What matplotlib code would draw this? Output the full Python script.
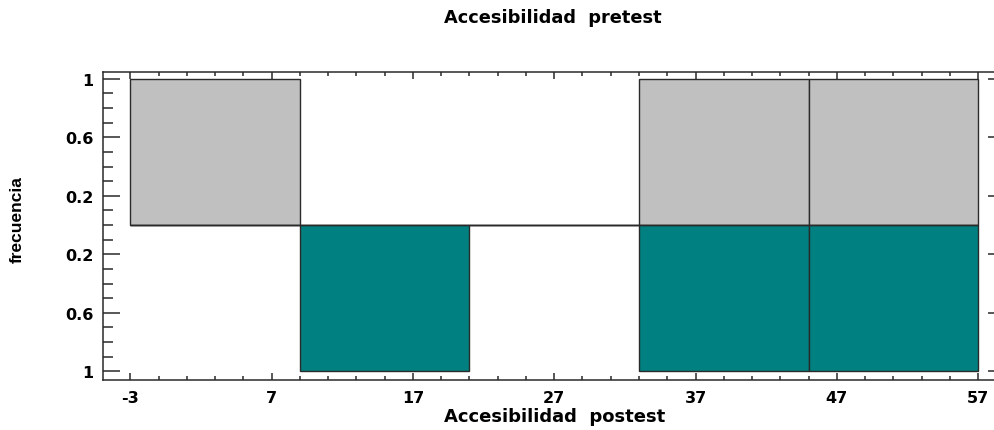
import numpy as np
import matplotlib
matplotlib.use("Agg")
import matplotlib.pyplot as plt
from matplotlib import font_manager
from matplotlib.ticker import FixedLocator, MultipleLocator, FuncFormatter

plt.rcParams['font.family'] = ['DejaVu Sans']
plt.rcParams['axes.unicode_minus'] = False

# histogram bins (width 12 starting at -3)
bin_left = [-3, 9, 21, 33, 45]
bin_width = 12
pretest = [1, 0, 0, 1, 1]
postest = [0, 1, 0, 1, 1]

x_ticks = [-3, 7, 17, 27, 37, 47, 57]
y_ticks = [-1, -0.6, -0.2, 0.2, 0.6, 1]

fig = plt.figure(figsize=(9.95, 4.31), dpi=100)
ax = fig.add_axes([0.104, 0.116, 0.906, 0.715])

edge = "#2a2a2a"
ax.bar(bin_left, pretest, width=bin_width, align="edge", color="#c0c0c0",
       edgecolor=edge, linewidth=1.0, zorder=2)
ax.bar(bin_left, [-v for v in postest], width=bin_width, align="edge",
       color="#008080", edgecolor=edge, linewidth=1.0, zorder=2)
ax.hlines(0, bin_left[0], bin_left[-1] + bin_width, color=edge, lw=1.0, zorder=3)

ax.set_xlim(-4.9, 58.9)
ax.set_ylim(-1.06, 1.048)

ax.xaxis.set_major_locator(FixedLocator(x_ticks))
ax.xaxis.set_minor_locator(MultipleLocator(2, offset=1))
ax.yaxis.set_major_locator(FixedLocator(y_ticks))
ax.yaxis.set_minor_locator(MultipleLocator(0.1))
ax.yaxis.set_major_formatter(FuncFormatter(lambda v, p: f"{abs(v):g}"))

ax.tick_params(axis="both", which="both", direction="in", top=True, right=True,
               color="#2a2a2a", width=1.1, labelsize=11.5)
ax.tick_params(axis="x", which="major", length=5, pad=7)
ax.tick_params(axis="x", which="minor", length=3)
ax.tick_params(axis="y", which="major", length=12.5, pad=7)
ax.tick_params(axis="y", which="minor", length=7, right=False)
for lab in ax.get_xticklabels() + ax.get_yticklabels():
    lab.set_fontweight("bold")

for s in ax.spines.values():
    s.set_color("#2a2a2a")
    s.set_linewidth(1.1)

# narrow font for the y label if there is one
names = {f.name for f in font_manager.fontManager.ttflist}
ylab_font = ['Liberation Sans Narrow'] if 'Liberation Sans Narrow' in names else ['Liberation Sans']

fig.text(553 / 995, 1 - 18 / 431, "Accesibilidad  pretest", fontsize=12.8,
         fontweight="bold", ha="center", va="center")
fig.text(555 / 995, 1 - 417 / 431, "Accesibilidad  postest", fontsize=13,
         fontweight="bold", ha="center", va="center")
fig.text(17 / 995, 1 - 220 / 431, "frecuencia", fontsize=12.5, family=ylab_font,
         fontweight="bold", ha="center", va="center", rotation=90)

fig.savefig("out.png", dpi=100)
